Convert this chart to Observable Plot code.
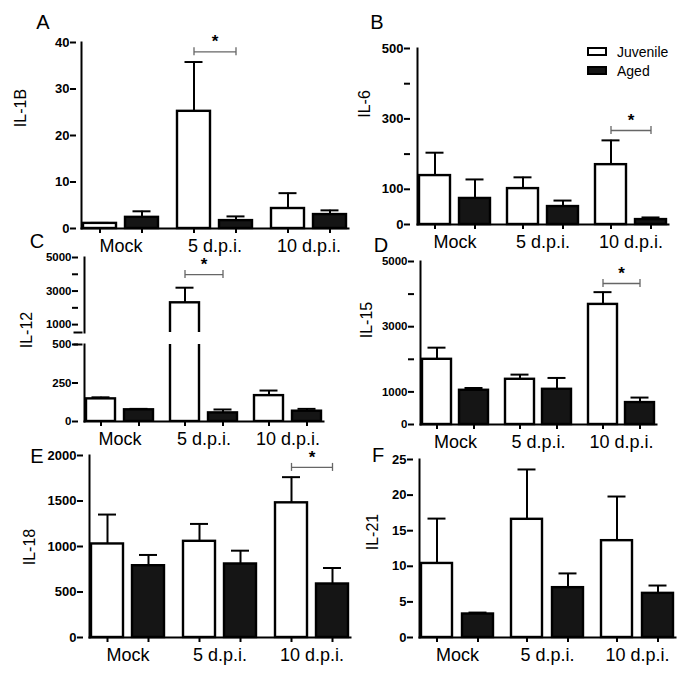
<!DOCTYPE html>
<html>
<head>
<meta charset="utf-8">
<script src="https://cdn.jsdelivr.net/npm/d3@7"></script>
<script src="https://cdn.jsdelivr.net/npm/@observablehq/plot@0.6"></script>
<style>
  body { margin: 0; background: #fff; }
  #fig { position: relative; width: 685px; height: 675px; overflow: hidden; font-family: "Liberation Sans", Arial, sans-serif; color: #000; }
  #fig svg { position: absolute; overflow: visible; }
  .t { position: absolute; white-space: nowrap; line-height: 1; transform: translate(-50%, -50%); }
  .letter { font-size: 20px; }
  .ytitle { font-size: 16px; transform: translate(-50%, -50%) rotate(-90deg); }
  .leg { font-size: 14px; transform: translate(0, -50%); }
  .box { position: absolute; box-sizing: border-box; border: 2px solid #000; }
</style>
</head>
<body>
<div id="fig"></div>
<script>
// ---------- data ----------
const groups = ["Mock", "5 d.p.i.", "10 d.p.i."];
const series = ["Juvenile", "Aged"];

// IL-1B (panel A)
const il1bJuv = [1.1, 25.2, 4.3];
const il1bJuvErr = [1.2, 35.8, 7.6];
const il1bAged = [2.4, 1.7, 3.0];
const il1bAgedErr = [3.7, 2.6, 3.9];
const il1bTicks = [0, 10, 20, 30, 40];
const il1bLabels = [0, 10, 20, 30, 40];
const il1bSig = [{group: "5 d.p.i.", from: "Juvenile", to: "Aged", y: 38, mark: "*"}];

// IL-6 (panel B)
const il6Juv = [139, 102, 170];
const il6JuvErr = [204, 134, 239];
const il6Aged = [74, 51, 14];
const il6AgedErr = [128, 68, 20];
const il6Ticks = [0, 100, 200, 300, 400, 500];
const il6Labels = [0, 100, 300, 500];
const il6Sig = [{group: "10 d.p.i.", from: "Juvenile", to: "Aged", y: 267, mark: "*"}];

// IL-12 (panel C, broken axis)
const il12Juv = [147, 2300, 168];
const il12JuvErr = [157, 3200, 201];
const il12Aged = [76, 56, 67];
const il12AgedErr = [82, 78, 82];
const il12TopDomain = [530, 5000];
const il12BottomDomain = [0, 500];
const il12TopTicks = [1000, 2000, 3000, 4000, 5000];
const il12TopLabels = [1000, 3000, 5000];
const il12BottomTicks = [0, 250, 500];
const il12BottomLabels = [0, 250, 500];
const il12TopBreak = [530];
const il12BottomBreak = [500];
const il12Sig = [{group: "5 d.p.i.", from: "Juvenile", to: "Aged", y: 3985, mark: "*"}];

// IL-15 (panel D)
const il15Juv = [2000, 1387, 3684];
const il15JuvErr = [2357, 1530, 4060];
const il15Aged = [1050, 1080, 673];
const il15AgedErr = [1120, 1428, 826];
const il15Ticks = [0, 1000, 2000, 3000, 4000, 5000];
const il15Labels = [0, 1000, 3000, 5000];
const il15Sig = [{group: "10 d.p.i.", from: "Juvenile", to: "Aged", y: 4325, mark: "*"}];

// IL-18 (panel E)
const il18Juv = [1028, 1057, 1480];
const il18JuvErr = [1351, 1248, 1762];
const il18Aged = [789, 808, 588];
const il18AgedErr = [907, 954, 764];
const il18Ticks = [0, 500, 1000, 1500, 2000];
const il18Labels = [0, 500, 1000, 1500, 2000];
const il18Sig = [{group: "10 d.p.i.", from: "Juvenile", to: "Aged", y: 1869, mark: "*"}];

// IL-21 (panel F)
const il21Juv = [10.4, 16.6, 13.6];
const il21JuvErr = [16.7, 23.6, 19.8];
const il21Aged = [3.3, 7.0, 6.2];
const il21AgedErr = [3.5, 9.0, 7.3];
const il21Ticks = [0, 5, 10, 15, 20, 25];
const il21Labels = [0, 5, 10, 15, 20, 25];

// ---------- helpers ----------
function rowsOf(juv, juvErr, aged, agedErr) {
  return groups.flatMap((g, i) => [
    {group: g, series: "Juvenile", value: juv[i], err: juvErr[i]},
    {group: g, series: "Aged", value: aged[i], err: agedErr[i]}
  ]);
}

const fig = document.getElementById("fig");

function panel(rows, o) {
  const e = 2;
  const ml = o.axis - o.left;
  const R = 3 * o.gw + 2 * o.gap + 2 * o.off;
  const mr = 4;
  const width = ml + R + mr;
  const mt = o.ytop - o.top;
  const mb = o.top + o.height - o.y0;
  const fw = o.gw + 2 * e;
  const fgap = o.gap - 2 * e;
  const fstep = fw + fgap;
  const g = o.gw - 2 * o.barw;
  const xstep = o.barw + g;
  const cap = (o.barw - 18) / 2;
  // the y axis of a faceted plot sits at the first facet: shift it back onto the frame edge
  const shift = -(o.off - e);
  const clip = !!o.clip;

  const marks = [
    Plot.barY(rows, {fx: "group", x: "series", y1: 0, y2: "value", fill: "series", stroke: "#000", strokeWidth: 2.4, clip}),
    Plot.ruleX(rows, {fx: "group", x: "series", y1: "value", y2: "err", stroke: "#000", strokeWidth: 2, clip}),
    Plot.tickY(rows, {fx: "group", x: "series", y: "err", insetLeft: cap, insetRight: cap, stroke: "#000", strokeWidth: 2, clip}),
    Plot.frame({anchor: "left", facet: "super", stroke: "#000", strokeWidth: 2}),
    Plot.axisY({
      ticks: o.ticks,
      tickFormat: d => o.labels.includes(d) ? String(d) : "",
      tickSize: 6, tickPadding: 1, dx: shift,
      fontWeight: "bold", fontSize: o.tickFont || 13,
      strokeWidth: 2, label: null
    })
  ];
  if (o.breaks) {
    // short cap across the axis at the end of a broken-axis segment
    marks.push(Plot.axisY({ticks: o.breaks, tickFormat: () => "", tickSize: 9, dx: shift + 4.5, strokeWidth: 2, label: null}));
  }
  if (o.xAxis) {
    marks.push(
      Plot.frame({anchor: "bottom", facet: "super", stroke: "#000", strokeWidth: 2}),
      Plot.axisX({tickSize: 5, tickFormat: () => "", strokeWidth: 2, label: null}),
      Plot.axisFx({anchor: "bottom", tickSize: 0, tickPadding: 11, fontSize: 18, label: null})
    );
  }
  if (o.sig) {
    marks.push(
      Plot.link(o.sig, {fx: "group", x1: "from", x2: "to", y1: "y", y2: "y", stroke: "#666", strokeWidth: 1.3}),
      Plot.ruleX(o.sig, {fx: "group", x: "from", y1: "y", y2: "y", insetTop: -4, insetBottom: -4, stroke: "#666", strokeWidth: 1.3}),
      Plot.ruleX(o.sig, {fx: "group", x: "to", y1: "y", y2: "y", insetTop: -4, insetBottom: -4, stroke: "#666", strokeWidth: 1.3}),
      Plot.text(o.sig, {fx: "group", y: "y", text: "mark", dy: -10, fontSize: 17, fontWeight: "bold"})
    );
  }
  const svg = Plot.plot({
    width, height: o.height,
    marginLeft: ml, marginRight: mr, marginTop: mt, marginBottom: mb,
    style: {fontFamily: '"Liberation Sans", Arial, sans-serif', fontSize: "12px", color: "#000", background: "transparent", overflow: "visible"},
    fx: {domain: groups, paddingInner: fgap / fstep, paddingOuter: (o.off - e) / fstep, round: false, axis: null, label: null},
    x: {domain: series, paddingInner: g / xstep, paddingOuter: e / xstep, round: false, axis: null, label: null},
    y: {domain: o.domain, axis: null, label: null},
    color: {domain: series, range: ["#ffffff", "#151515"]},
    marks
  });
  svg.style.left = o.left + "px";
  svg.style.top = o.top + "px";
  fig.appendChild(svg);
}

function addText(cls, txt, x, y) {
  const d = document.createElement("div");
  d.className = "t " + cls;
  d.textContent = txt;
  d.style.left = x + "px";
  d.style.top = y + "px";
  fig.appendChild(d);
}

// ---------- panels ----------
panel(rowsOf(il1bJuv, il1bJuvErr, il1bAged, il1bAgedErr), {
  left: 0, top: 20, height: 238, axis: 76, ytop: 42, y0: 228,
  off: 7, gw: 75, gap: 19, barw: 33, domain: [0, 40],
  ticks: il1bTicks, labels: il1bLabels, xAxis: true, sig: il1bSig
});
panel(rowsOf(il6Juv, il6JuvErr, il6Aged, il6AgedErr), {
  left: 340, top: 20, height: 234, axis: 410, ytop: 48, y0: 224,
  off: 9, gw: 71, gap: 17, barw: 31, domain: [0, 500],
  ticks: il6Ticks, labels: il6Labels, xAxis: true, sig: il6Sig
});
// C: upper segment of the broken axis
panel(rowsOf(il12Juv, il12JuvErr, il12Aged, il12AgedErr), {
  left: 0, top: 245, height: 87, axis: 78, ytop: 257, y0: 332,
  off: 8, gw: 67, gap: 17, barw: 29, domain: il12TopDomain,
  ticks: il12TopTicks, labels: il12TopLabels, breaks: il12TopBreak, tickFont: 11.5, xAxis: false, sig: il12Sig, clip: true
});
// C: lower segment
panel(rowsOf(il12Juv, il12JuvErr, il12Aged, il12AgedErr), {
  left: 0, top: 336, height: 115, axis: 78, ytop: 344, y0: 421,
  off: 8, gw: 67, gap: 17, barw: 29, domain: il12BottomDomain,
  ticks: il12BottomTicks, labels: il12BottomLabels, breaks: il12BottomBreak, tickFont: 11.5, xAxis: true, clip: true
});
panel(rowsOf(il15Juv, il15JuvErr, il15Aged, il15AgedErr), {
  left: 340, top: 245, height: 210, axis: 414, ytop: 261, y0: 424,
  off: 8, gw: 66, gap: 17, barw: 29, domain: [0, 5000],
  ticks: il15Ticks, labels: il15Labels, tickFont: 11.5, xAxis: true, sig: il15Sig
});
panel(rowsOf(il18Juv, il18JuvErr, il18Aged, il18AgedErr), {
  left: 0, top: 445, height: 228, axis: 83, ytop: 455, y0: 637,
  off: 8, gw: 73, gap: 19, barw: 32, domain: [0, 2000],
  ticks: il18Ticks, labels: il18Labels, xAxis: true, sig: il18Sig
});
panel(rowsOf(il21Juv, il21JuvErr, il21Aged, il21AgedErr), {
  left: 340, top: 445, height: 228, axis: 413, ytop: 459, y0: 637,
  off: 8, gw: 72, gap: 18, barw: 31, domain: [0, 25],
  ticks: il21Ticks, labels: il21Labels, xAxis: true
});

// ---------- panel letters & axis titles ----------
addText("letter", "A", 43, 22);
addText("letter", "B", 377, 22);
addText("letter", "C", 37, 241);
addText("letter", "D", 381, 245);
addText("letter", "E", 37, 456);
addText("letter", "F", 378, 455);

addText("ytitle", "IL-1B", 21, 108);
addText("ytitle", "IL-6", 365, 104);
addText("ytitle", "IL-12", 27, 330);
addText("ytitle", "IL-15", 367, 320);
addText("ytitle", "IL-18", 30, 547);
addText("ytitle", "IL-21", 373, 532);

// ---------- legend ----------
const legendColors = ["#ffffff", "#151515"];
const legendTops = [47, 66];
series.forEach((s, i) => {
  const b = document.createElement("div");
  b.className = "box";
  b.style.left = "587px";
  b.style.top = legendTops[i] + "px";
  b.style.width = "20px";
  b.style.height = "9px";
  b.style.background = legendColors[i];
  fig.appendChild(b);
  const t = document.createElement("div");
  t.className = "t leg";
  t.textContent = s;
  t.style.left = "617px";
  t.style.top = (legendTops[i] + 4.5) + "px";
  fig.appendChild(t);
});
</script>
</body>
</html>
